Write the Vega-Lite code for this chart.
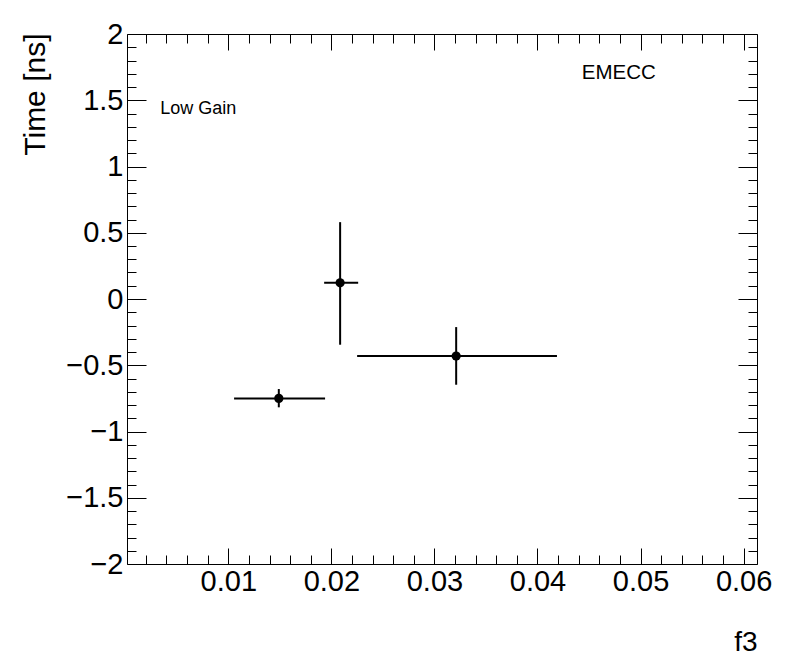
{
  "$schema": "https://vega.github.io/schema/vega-lite/v6.json",
  "width": 630,
  "height": 530,
  "autosize": {"type": "none"},
  "padding": {"left": 127, "top": 34, "right": 39, "bottom": 108},
  "background": "white",
  "config": {
    "view": {"stroke": null},
    "axis": {
      "labelFont": "Liberation Sans",
      "titleFont": "Liberation Sans",
      "labelColor": "black",
      "titleColor": "black",
      "domainColor": "black",
      "tickColor": "black",
      "grid": false,
      "labelFontSize": 29,
      "titleFontSize": 28,
      "titleFontWeight": "normal",
      "domainWidth": 1,
      "tickWidth": 1
    }
  },
  "datasets": {
    "points": [
      {"f3": 0.0149, "f3_lo": 0.01056, "f3_hi": 0.01939, "time": -0.75, "time_lo": -0.8175, "time_hi": -0.6795},
      {"f3": 0.02085, "f3_lo": 0.0193, "f3_hi": 0.0226, "time": 0.122, "time_lo": -0.345, "time_hi": 0.58},
      {"f3": 0.03211, "f3_lo": 0.0225, "f3_hi": 0.04189, "time": -0.4306, "time_lo": -0.647, "time_hi": -0.212}
    ],
    "labels": [
      {"f3": 0.0034, "time": 1.395, "label": "Low Gain"},
      {"f3": 0.0443, "time": 1.664, "label": "EMECC"}
    ]
  },
  "resolve": {"axis": {"x": "independent", "y": "independent"}},
  "layer": [
    {
      "data": {"name": "points"},
      "mark": {"type": "rule", "color": "black", "strokeWidth": 2},
      "encoding": {
        "x": {
          "field": "f3_lo", "type": "quantitative",
          "scale": {"domain": [0.00017, 0.0613], "nice": false, "zero": false},
          "axis": {
            "orient": "bottom", "title": "f3", "format": "~g",
            "values": [0.01, 0.02, 0.03, 0.04, 0.05, 0.06],
            "ticks": false, "labelPadding": 3, "domain": true,
            "titleX": 630, "titleY": 86, "titleAlign": "right", "titleBaseline": "alphabetic", "titleAnchor": null
          }
        },
        "x2": {"field": "f3_hi"},
        "y": {
          "field": "time", "type": "quantitative",
          "scale": {"domain": [-2, 2], "nice": false, "zero": false},
          "axis": {
            "orient": "left", "title": "Time [ns]", "format": "~g",
            "values": [-2, -1.5, -1, -0.5, 0, 0.5, 1, 1.5, 2],
            "ticks": false, "labelPadding": 4, "domain": true, "titleFontSize": 30,
            "titleX": -83, "titleY": -1, "titleAngle": -90, "titleAlign": "right", "titleBaseline": "alphabetic", "titleAnchor": null
          }
        }
      }
    },
    {
      "data": {"name": "points"},
      "mark": {"type": "rule", "color": "black", "strokeWidth": 2},
      "encoding": {
        "x": {
          "field": "f3", "type": "quantitative",
          "scale": {"domain": [0.00017, 0.0613], "nice": false, "zero": false},
          "axis": {
            "orient": "bottom", "title": null, "labels": false, "domain": false,
            "values": [0.01, 0.02, 0.03, 0.04, 0.05, 0.06], "tickSize": -16
          }
        },
        "y": {
          "field": "time_lo", "type": "quantitative",
          "scale": {"domain": [-2, 2], "nice": false, "zero": false},
          "axis": {
            "orient": "left", "title": null, "labels": false, "domain": false,
            "values": [-2, -1.5, -1, -0.5, 0, 0.5, 1, 1.5, 2], "tickSize": -19
          }
        },
        "y2": {"field": "time_hi"}
      }
    },
    {
      "data": {"name": "points"},
      "mark": {"type": "point", "filled": true, "shape": "circle", "color": "black", "size": 85, "opacity": 1},
      "encoding": {
        "x": {
          "field": "f3", "type": "quantitative",
          "scale": {"domain": [0.00017, 0.0613], "nice": false, "zero": false},
          "axis": {
            "orient": "bottom", "title": null, "labels": false, "domain": false,
            "values": [0.002, 0.004, 0.006, 0.008, 0.012, 0.014, 0.016, 0.018, 0.022, 0.024, 0.026, 0.028, 0.032, 0.034, 0.036, 0.038, 0.042, 0.044, 0.046, 0.048, 0.052, 0.054, 0.056, 0.058],
            "tickSize": -9
          }
        },
        "y": {
          "field": "time", "type": "quantitative",
          "scale": {"domain": [-2, 2], "nice": false, "zero": false},
          "axis": {
            "orient": "left", "title": null, "labels": false, "domain": false,
            "values": [-1.9, -1.8, -1.7, -1.6, -1.4, -1.3, -1.2, -1.1, -0.9, -0.8, -0.7, -0.6, -0.4, -0.3, -0.2, -0.1, 0.1, 0.2, 0.3, 0.4, 0.6, 0.7, 0.8, 0.9, 1.1, 1.2, 1.3, 1.4, 1.6, 1.7, 1.8, 1.9],
            "tickSize": -9
          }
        }
      }
    },
    {
      "data": {"name": "labels"},
      "transform": [{"filter": "datum.label == 'Low Gain'"}],
      "mark": {"type": "text", "font": "Liberation Sans", "fontSize": 18, "align": "left", "baseline": "alphabetic", "color": "black"},
      "encoding": {
        "text": {"field": "label"},
        "x": {
          "field": "f3", "type": "quantitative",
          "scale": {"domain": [0.00017, 0.0613], "nice": false, "zero": false},
          "axis": {
            "orient": "top", "title": null, "labels": false, "domain": true,
            "values": [0.01, 0.02, 0.03, 0.04, 0.05, 0.06], "tickSize": -16
          }
        },
        "y": {
          "field": "time", "type": "quantitative",
          "scale": {"domain": [-2, 2], "nice": false, "zero": false},
          "axis": {
            "orient": "right", "title": null, "labels": false, "domain": true,
            "values": [-2, -1.5, -1, -0.5, 0, 0.5, 1, 1.5, 2], "tickSize": -19
          }
        }
      }
    },
    {
      "data": {"name": "labels"},
      "transform": [{"filter": "datum.label == 'EMECC'"}],
      "mark": {"type": "text", "font": "Liberation Sans", "fontSize": 20.5, "align": "left", "baseline": "alphabetic", "color": "black"},
      "encoding": {
        "text": {"field": "label"},
        "x": {
          "field": "f3", "type": "quantitative",
          "scale": {"domain": [0.00017, 0.0613], "nice": false, "zero": false},
          "axis": {
            "orient": "top", "title": null, "labels": false, "domain": false,
            "values": [0.002, 0.004, 0.006, 0.008, 0.012, 0.014, 0.016, 0.018, 0.022, 0.024, 0.026, 0.028, 0.032, 0.034, 0.036, 0.038, 0.042, 0.044, 0.046, 0.048, 0.052, 0.054, 0.056, 0.058],
            "tickSize": -9
          }
        },
        "y": {
          "field": "time", "type": "quantitative",
          "scale": {"domain": [-2, 2], "nice": false, "zero": false},
          "axis": {
            "orient": "right", "title": null, "labels": false, "domain": false,
            "values": [-1.9, -1.8, -1.7, -1.6, -1.4, -1.3, -1.2, -1.1, -0.9, -0.8, -0.7, -0.6, -0.4, -0.3, -0.2, -0.1, 0.1, 0.2, 0.3, 0.4, 0.6, 0.7, 0.8, 0.9, 1.1, 1.2, 1.3, 1.4, 1.6, 1.7, 1.8, 1.9],
            "tickSize": -9
          }
        }
      }
    }
  ]
}
